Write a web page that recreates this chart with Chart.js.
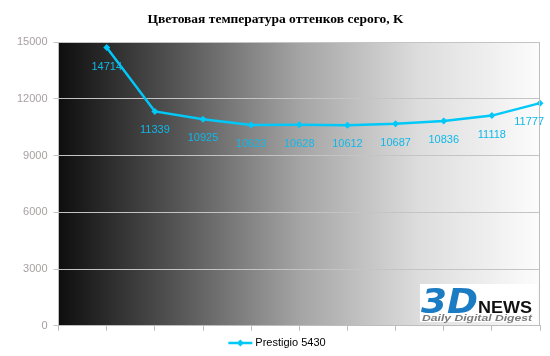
<!DOCTYPE html>
<html>
<head>
<meta charset="utf-8">
<script src="https://cdn.jsdelivr.net/npm/chart.js@4"></script>
<style>
html,body{margin:0;padding:0;background:#fff;}
#wrap{width:550px;height:356px;position:relative;}
</style>
</head>
<body>
<div id="wrap"><canvas id="c" width="550" height="356"></canvas></div>
<script>
const categories = ['', '1', '2', '3', '4', '5', '6', '7', '8', '9', '10'];
const seriesName = 'Prestigio 5430';
const values = [null, 14714, 11339, 10925, 10623, 10628, 10612, 10687, 10836, 11118, 11777];
const yTicks = [0, 3000, 6000, 9000, 12000, 15000];
const titleText = 'Цветовая температура оттенков серого, K';

const lineColor = '#00c8f8';
const labelColor = '#10b8e8';

function fitText(ctx, txt, x, baseline, width) {
  const w = ctx.measureText(txt).width;
  ctx.save();
  ctx.translate(x, baseline);
  ctx.scale(width / w, 1);
  ctx.fillText(txt, 0, 0);
  ctx.restore();
}

const bgPlugin = {
  id: 'bgGrad',
  beforeDraw(chart) {
    const {ctx, chartArea: a} = chart;
    const g = ctx.createLinearGradient(a.left, 0, a.right, 0);
    g.addColorStop(0, '#0e0e0e');
    g.addColorStop(0.25, '#565656');
    g.addColorStop(0.5, '#a4a4a4');
    g.addColorStop(0.75, '#dddddd');
    g.addColorStop(1, '#fcfcfc');
    ctx.save();
    ctx.fillStyle = g;
    ctx.fillRect(a.left, a.top, a.right - a.left, a.bottom - a.top);
    ctx.restore();
  },
  afterDatasetsDraw(chart) {
    const {ctx, chartArea: a} = chart;
    ctx.save();
    // right border
    ctx.strokeStyle = '#bdbdbd';
    ctx.lineWidth = 1;
    ctx.beginPath();
    ctx.moveTo(Math.round(a.right) - 0.5, a.top);
    ctx.lineTo(Math.round(a.right) - 0.5, a.bottom);
    ctx.stroke();
    // data labels
    const meta = chart.getDatasetMeta(0);
    ctx.font = '11px "Liberation Sans", Arial, sans-serif';
    ctx.fillStyle = labelColor;
    ctx.textAlign = 'center';
    ctx.textBaseline = 'middle';
    meta.data.forEach((pt, i) => {
      const v = values[i];
      if (v === null || v === undefined) return;
      const txt = String(v);
      const w = ctx.measureText(txt).width;
      let x = pt.x;
      if (x + w / 2 > chart.width - 6) x = chart.width - 6 - w / 2;
      ctx.fillText(txt, x, pt.y + 19);
    });
    // logo
    const lx = 420, ly = 284, lw = 117, lh = 38;
    ctx.fillStyle = '#ffffff';
    ctx.fillRect(lx, ly, lw, lh);
    ctx.textAlign = 'left';
    ctx.textBaseline = 'alphabetic';
    ctx.fillStyle = '#1b7cc4';
    ctx.font = 'italic bold 34px "DejaVu Sans", sans-serif';
    fitText(ctx, '3D', 421, 313, 57);
    ctx.fillStyle = '#111111';
    ctx.font = 'bold 16px "Liberation Sans", Arial, sans-serif';
    fitText(ctx, 'NEWS', 478, 313, 54);
    ctx.fillStyle = '#7a7a7a';
    ctx.font = 'italic bold 8.5px "Liberation Sans", Arial, sans-serif';
    fitText(ctx, 'Daily Digital Digest', 422, 320.5, 110);
    // custom legend
    const label = seriesName;
    ctx.font = '11px "Liberation Sans", Arial, sans-serif';
    const tw = ctx.measureText(label).width;
    const total = 24 + 3 + tw;
    const x0 = chart.width / 2 - total / 2 + 2;
    const cy = 343;
    ctx.strokeStyle = lineColor;
    ctx.lineWidth = 2.5;
    ctx.beginPath();
    ctx.moveTo(x0, cy); ctx.lineTo(x0 + 24, cy);
    ctx.stroke();
    ctx.fillStyle = lineColor;
    const cx = x0 + 12;
    ctx.beginPath();
    ctx.moveTo(cx, cy - 3.5); ctx.lineTo(cx + 3.5, cy); ctx.lineTo(cx, cy + 3.5); ctx.lineTo(cx - 3.5, cy);
    ctx.closePath(); ctx.fill();
    ctx.fillStyle = '#000';
    ctx.textBaseline = 'middle';
    ctx.fillText(label, x0 + 27, cy);
    ctx.restore();
  }
};

new Chart(document.getElementById('c'), {
  type: 'line',
  data: {
    labels: categories,
    datasets: [{
      label: seriesName,
      data: values,
      borderColor: lineColor,
      backgroundColor: lineColor,
      borderWidth: 2.5,
      pointStyle: 'rectRot',
      pointRadius: 3.5,
      pointBorderWidth: 0,
      pointBackgroundColor: lineColor,
      tension: 0,
      spanGaps: false
    }]
  },
  options: {
    responsive: false,
    animation: false,
    devicePixelRatio: 1,
    layout: { padding: { left: 11, right: 10, top: 0, bottom: 24 } },
    plugins: {
      title: {
        display: true,
        text: titleText,
        color: '#000',
        font: { family: '"Liberation Serif", "Times New Roman", serif', size: 13.5, weight: 'bold' },
        padding: { top: 11, bottom: 15 }
      },
      legend: { display: false },
      tooltip: { enabled: false }
    },
    scales: {
      x: {
        offset: false,
        grid: { display: true, drawOnChartArea: false, drawTicks: true, tickLength: 5, color: '#bdbdbd', offset: false },
        border: { display: true, color: '#bdbdbd' },
        ticks: { display: true, color: 'rgba(0,0,0,0)', font: { size: 1 }, padding: 0, autoSkip: false, maxRotation: 0 }
      },
      y: {
        min: 0,
        max: 15000,
        afterBuildTicks(axis) { axis.ticks = yTicks.map(v => ({ value: v })); },
        grid: { color: '#c4c4c4', tickLength: 5, drawTicks: true },
        border: { display: true, color: '#bdbdbd' },
        ticks: {
          color: '#a8a0a0',
          padding: 6,
          callback: v => String(v),
          font: { family: '"Liberation Sans", Arial, sans-serif', size: 11 }
        }
      }
    }
  },
  plugins: [bgPlugin]
});
</script>
</body>
</html>
